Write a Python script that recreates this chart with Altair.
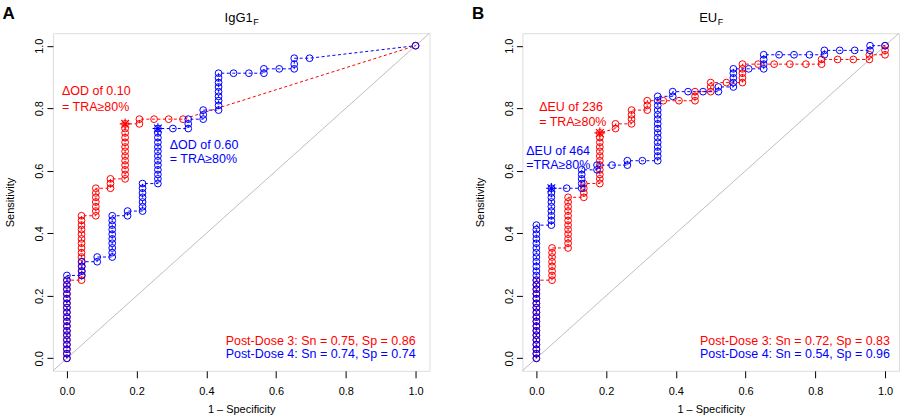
import altair as alt
import pandas as pd

# ---------------- data ----------------
# Panel A (IgG1_F) – Post-Dose 3 (red)
a_pd3_fpr = [0, 0, 0, 0, 0, 0, 0, 0, 0, 0, 0, 0, 0, 0, 0, 0, 0, 0,
             .042, .042, .042, .042, .042, .042, .042, .042, .042, .042, .042, .042, .042, .042, .042,
             .083, .083, .083, .083, .083, .083, .083,
             .125, .125, .125,
             .167, .167, .167, .167, .167, .167, .167, .167, .167, .167, .167, .167, .167,
             .208, .208, .25, .292, .333, 1]
a_pd3_tpr = [0, .015, .029, .044, .059, .074, .088, .103, .118, .132, .147, .162, .176, .191, .206, .221, .235, .25,
             .25, .265, .279, .294, .309, .324, .338, .353, .368, .382, .397, .412, .426, .441, .456,
             .456, .471, .485, .5, .515, .529, .544,
             .544, .559, .574,
             .574, .588, .603, .618, .632, .647, .662, .676, .691, .706, .721, .735, .75,
             .75, .765, .765, .765, .765, 1]
# Panel A – Post-Dose 4 (blue)
a_pd4_fpr = [0, 0, 0, 0, 0, 0, 0, 0, 0, 0, 0, 0, 0, 0, 0, 0, 0, 0, 0,
             .043, .043, .043, .043,
             .087, .087,
             .13, .13, .13, .13, .13, .13, .13, .13, .13, .13,
             .174, .174,
             .217, .217, .217, .217, .217, .217, .217,
             .261, .261, .261, .261, .261, .261, .261, .261, .261, .261, .261, .261, .261,
             .304,
             .348, .348, .348,
             .391, .391, .391,
             .435, .435, .435, .435, .435, .435, .435, .435, .435,
             .478, .522,
             .565, .565,
             .609,
             .652, .652, .652,
             .696,
             1]
a_pd4_tpr = [0, .015, .029, .044, .059, .074, .088, .103, .118, .132, .147, .162, .176, .191, .206, .221, .235, .25, .265,
             .265, .279, .294, .309,
             .309, .324,
             .324, .338, .353, .368, .382, .397, .412, .426, .441, .456,
             .456, .471,
             .471, .485, .5, .515, .529, .544, .559,
             .559, .574, .588, .603, .618, .632, .647, .662, .676, .691, .706, .721, .735,
             .735,
             .735, .75, .765,
             .765, .779, .794,
             .794, .809, .824, .838, .853, .868, .882, .897, .912,
             .912, .912,
             .912, .926,
             .926,
             .926, .941, .96,
             .96,
             1]
# Panel B (EU_F) – Post-Dose 3 (red)
b_pd3_fpr = [0, 0, 0, 0, 0, 0, 0, 0, 0, 0, 0, 0, 0, 0, 0, 0, 0, 0,
             .045, .045, .045, .045, .045, .045, .045, .045,
             .091, .091, .091, .091, .091, .091, .091, .091, .091, .091, .091, .091,
             .136, .136, .136, .136,
             .182, .182, .182, .182, .182, .182, .182, .182, .182, .182, .182, .182,
             .227, .227,
             .273, .273, .273, .273,
             .318, .318, .318,
             .364, .409,
             .455, .455, .455,
             .5, .5, .5,
             .545,
             .591, .591, .591, .591, .591,
             .636, .682, .727, .773,
             .818, .818,
             .864, .909,
             .955, .955,
             1, 1, 1]
b_pd3_tpr = [0, .015, .029, .044, .059, .074, .088, .103, .118, .132, .147, .162, .176, .191, .206, .221, .235, .25,
             .25, .265, .279, .294, .309, .324, .338, .353,
             .353, .368, .382, .397, .412, .426, .441, .456, .471, .485, .5, .515,
             .515, .529, .544, .559,
             .559, .574, .588, .603, .618, .632, .647, .662, .676, .691, .706, .721,
             .735, .75,
             .75, .765, .779, .794,
             .794, .809, .824,
             .824, .824,
             .824, .838, .853,
             .853, .868, .882,
             .882,
             .882, .897, .912, .926, .941,
             .941, .941, .941, .941,
             .941, .956,
             .956, .956,
             .956, .971,
             .971, .985, 1]
# Panel B – Post-Dose 4 (blue)
b_pd4_fpr = [0, 0, 0, 0, 0, 0, 0, 0, 0, 0, 0, 0, 0, 0, 0, 0, 0, 0, 0, 0, 0, 0, 0, 0, 0, 0, 0, 0, 0, 0,
             .043, .043, .043, .043, .043, .043, .043, .043, .043,
             .087,
             .13, .13, .13, .13, .13,
             .174, .174,
             .217,
             .261, .261,
             .304,
             .348, .348, .348, .348, .348, .348, .348, .348, .348, .348, .348, .348, .348, .348, .348,
             .391, .391,
             .435, .478,
             .522, .522,
             .565, .565, .565, .565, .565,
             .609,
             .652, .652, .652, .652,
             .696, .739, .783,
             .826, .826,
             .87, .913,
             .957, .957,
             1]
b_pd4_tpr = [0, .015, .029, .044, .059, .074, .088, .103, .118, .132, .147, .162, .176, .191, .206, .221, .235, .25,
             .265, .279, .294, .309, .324, .338, .353, .368, .382, .397, .412, .426,
             .426, .441, .456, .471, .485, .5, .515, .529, .544,
             .544,
             .544, .559, .574, .588, .603,
             .603, .618,
             .618,
             .618, .632,
             .632,
             .632, .647, .662, .676, .691, .706, .721, .735, .75, .765, .779, .794, .809, .824, .838,
             .838, .853,
             .853, .853,
             .853, .868,
             .868, .882, .897, .912, .926,
             .926,
             .926, .941, .956, .971,
             .971, .971, .971,
             .971, .985,
             .985, .985,
             .985, 1,
             1]

# optimal-cutoff points (asterisks)
a_star_fpr = [.167, .261]
a_star_tpr = [.75, .735]
b_star_fpr = [.182, .043]
b_star_tpr = [.721, .544]
star_series = ["Post-Dose 3", "Post-Dose 4"]

# text
a_notes = ["ΔOD of 0.10", "= TRA≥80%", "ΔOD of 0.60", "= TRA≥80%"]
b_notes = ["ΔEU of 236", "= TRA≥80%", "ΔEU of 464", "=TRA≥80%"]
notes_series = ["Post-Dose 3", "Post-Dose 3", "Post-Dose 4", "Post-Dose 4"]
a_summary = ["Post-Dose 3: Sn = 0.75, Sp = 0.86", "Post-Dose 4: Sn = 0.74, Sp = 0.74"]
b_summary = ["Post-Dose 3: Sn = 0.72, Sp = 0.83", "Post-Dose 4: Sn = 0.54, Sp = 0.96"]
ticks = [0.0, 0.2, 0.4, 0.6, 0.8, 1.0]

# ---------------- layout / style constants ----------------
FONT = "Liberation Sans"
RED, BLUE = "#FF0000", "#0000FF"
DOM = [-0.04, 1.04]
W, H = 377, 338
ASTERISK = "M-1,0L1,0M0,-1L0,1M-0.72,-0.72L0.72,0.72M-0.72,0.72L0.72,-0.72"
# annotation anchor positions (data units)
a_note_x = [-0.014, -0.014, 0.295, 0.295]
a_note_y = [0.854, 0.804, 0.682, 0.637]
b_note_x = [0.008, 0.008, -0.029, -0.029]
b_note_y = [0.804, 0.756, 0.664, 0.618]
a_sum_x, b_sum_x = 1.0, 1.014
sum_y = [0.054, 0.014]

color_scale = alt.Scale(domain=["Post-Dose 3", "Post-Dose 4"], range=[RED, BLUE])

X = alt.X("fpr:Q", scale=alt.Scale(domain=DOM, nice=False, zero=False),
          axis=alt.Axis(values=ticks, format=".1f", grid=False, domain=False,
                        tickSize=7, tickColor="black", tickWidth=1,
                        labelColor="black", labelFont=FONT, labelFontSize=11, labelPadding=8,
                        title="1 – Specificity", titleFont=FONT, titleFontSize=11,
                        titleFontWeight="normal", titleColor="black", titlePadding=7))
Y = alt.Y("tpr:Q", scale=alt.Scale(domain=DOM, nice=False, zero=False),
          axis=alt.Axis(values=ticks, format=".1f", grid=False, domain=False,
                        tickSize=6, tickColor="black", tickWidth=1,
                        labelColor="black", labelFont=FONT, labelFontSize=11,
                        labelAngle=270, labelAlign="center", labelBaseline="bottom", labelPadding=2,
                        title="Sensitivity", titleFont=FONT, titleFontSize=11,
                        titleFontWeight="normal", titleColor="black", titlePadding=18))


def curve(fpr, tpr, name):
    return pd.DataFrame({"fpr": fpr, "tpr": tpr, "series": name, "idx": list(range(len(fpr)))})


def panel(pd3, pd4, sfpr, stpr, nx, ny, notes, sx, summary, title_main, title_sub, title_right, letter):
    diag = alt.Chart(pd.DataFrame({"fpr": [DOM[0]], "tpr": [DOM[0]], "fpr2": [DOM[1]], "tpr2": [DOM[1]]})
                     ).mark_rule(color="#BEBEBE", strokeWidth=1).encode(
        x=X, y=Y, x2="fpr2:Q", y2="tpr2:Q")
    layers = [diag]
    for df, col in ((pd3, RED), (pd4, BLUE)):
        layers.append(alt.Chart(df).mark_line(color=col, strokeWidth=1, strokeDash=[3, 2.5]).encode(
            x=X, y=Y, order="idx:Q"))
        layers.append(alt.Chart(df).mark_point(shape="circle", filled=False, color=col, size=46,
                                                strokeWidth=1, opacity=1).encode(x=X, y=Y))
    stars = pd.DataFrame({"fpr": sfpr, "tpr": stpr, "series": star_series})
    layers.append(alt.Chart(stars).mark_point(shape=ASTERISK, filled=False, size=115, strokeWidth=1.1,
                                              opacity=1).encode(
        x=X, y=Y, color=alt.Color("series:N", scale=color_scale, legend=None)))
    ndf = pd.DataFrame({"fpr": nx, "tpr": ny, "t": notes, "series": notes_series})
    layers.append(alt.Chart(ndf).mark_text(align="left", baseline="middle", font=FONT, fontSize=12.5).encode(
        x=X, y=Y, text="t:N", color=alt.Color("series:N", scale=color_scale, legend=None)))
    sdf = pd.DataFrame({"fpr": [sx, sx], "tpr": sum_y, "t": summary, "series": star_series})
    layers.append(alt.Chart(sdf).mark_text(align="right", baseline="middle", font=FONT, fontSize=12.5).encode(
        x=X, y=Y, text="t:N", color=alt.Color("series:N", scale=color_scale, legend=None)))
    one = pd.DataFrame({"k": [0]})
    layers.append(alt.Chart(one).mark_text(text=title_main, align="right", baseline="alphabetic",
                                           font=FONT, fontSize=13, color="black").encode(
        x=alt.value(title_right), y=alt.value(-11.5)))
    layers.append(alt.Chart(one).mark_text(text=title_sub, align="left", baseline="alphabetic",
                                           font=FONT, fontSize=9, color="black").encode(
        x=alt.value(title_right + 0.5), y=alt.value(-8)))
    layers.append(alt.Chart(one).mark_text(text=letter, align="left", baseline="alphabetic",
                                           font=FONT, fontSize=17, fontWeight="bold", color="black").encode(
        x=alt.value(-50.5), y=alt.value(-14.5)))
    return alt.layer(*layers).properties(width=W, height=H)


pA = panel(curve(a_pd3_fpr, a_pd3_tpr, "Post-Dose 3"), curve(a_pd4_fpr, a_pd4_tpr, "Post-Dose 4"),
           a_star_fpr, a_star_tpr, a_note_x, a_note_y, a_notes, a_sum_x, a_summary,
           "IgG1", "F", 200, "A")
pB = panel(curve(b_pd3_fpr, b_pd3_tpr, "Post-Dose 3"), curve(b_pd4_fpr, b_pd4_tpr, "Post-Dose 4"),
           b_star_fpr, b_star_tpr, b_note_x, b_note_y, b_notes, b_sum_x, b_summary,
           "EU", "F", 195, "B")

chart = alt.hconcat(pA, pB, spacing=41).properties(
    padding={"left": 2, "top": 4, "right": 0, "bottom": 0}
).configure_view(stroke="black", strokeWidth=1).configure(background="white")

chart.save("out.html", embed_options={"renderer": "svg", "actions": False})
